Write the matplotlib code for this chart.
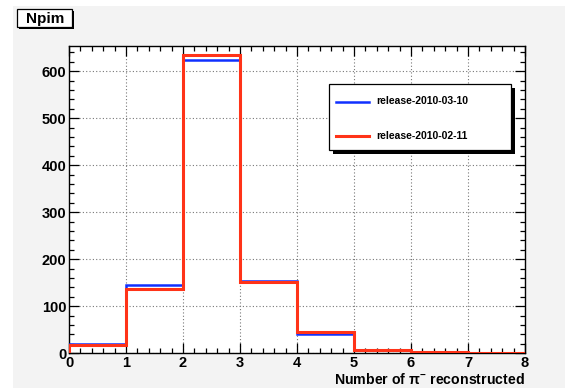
import matplotlib
matplotlib.use("Agg")
import matplotlib.pyplot as plt
from matplotlib.patches import Rectangle
from matplotlib.ticker import MultipleLocator
import numpy as np

# Number of reconstructed pi- per event, two releases
bin_edges = [0, 1, 2, 3, 4, 5, 6, 7, 8]
counts_2010_03_10 = [19, 145, 623, 154, 42, 8, 3, 1]
counts_2010_02_11 = [17, 136, 634, 151, 45, 8, 3, 0]
series_labels = ["release-2010-03-10", "release-2010-02-11"]
hist_title = "Npim"
x_title = r"Number of $\mathregular{\pi^{-}}$ reconstructed"

W, H = 565, 388
fig = plt.figure(figsize=(W / 100, H / 100), dpi=100)
fig.patch.set_facecolor("white")

# grey canvas
fig.patches.append(Rectangle((13 / W, 0), 1 - 13 / W, 1 - 6 / H,
                             transform=fig.transFigure, facecolor="#f3f3f3",
                             edgecolor="none", zorder=-10))

left, right, top, bottom = 69, 525, 45.7, 353.3
ax = fig.add_axes([left / W, 1 - bottom / H, (right - left) / W, (bottom - top) / H])
ax.set_zorder(1)
ax.set_facecolor("white")

ax.stairs(counts_2010_03_10, bin_edges, color="#1030ff", linewidth=1.8, zorder=3)
ax.stairs(counts_2010_02_11, bin_edges, color="#ff3318", linewidth=2.2, zorder=4)

ax.set_xlim(0, 8)
ax.set_ylim(0, max(counts_2010_03_10) * 1.05)

ax.xaxis.set_major_locator(MultipleLocator(1))
ax.xaxis.set_minor_locator(MultipleLocator(0.2))
ax.yaxis.set_major_locator(MultipleLocator(100))
ax.yaxis.set_minor_locator(MultipleLocator(20))

ax.grid(True, which="major", linestyle=(0, (1, 2)), color="#777777", linewidth=0.8, zorder=1)
ax.set_axisbelow(True)

ax.tick_params(which="both", direction="in", top=True, right=True, width=0.9, color="black")
ax.tick_params(which="major", length=7.5)
ax.tick_params(which="minor", length=3.8)
ax.tick_params(axis="both", which="major", labelsize=10.5, pad=2)
for lab in ax.get_xticklabels() + ax.get_yticklabels():
    lab.set_fontfamily("Liberation Sans")
    lab.set_fontweight("bold")

for s in ax.spines.values():
    s.set_linewidth(1.0)
    s.set_color("black")

fig.text(right / W, 1 - 380 / H, x_title, ha="right", va="center",
         fontsize=10.2, fontweight="bold", family="Liberation Sans")

# box with a drop shadow
def boxed(x0, y0, x1, y1, shadow):
    fig.patches.append(Rectangle(((x0 + shadow) / W, 1 - (y1 + shadow) / H), (x1 - x0) / W, (y1 - y0) / H,
                                 transform=fig.transFigure, facecolor="black", edgecolor="none", zorder=5))
    fig.patches.append(Rectangle((x0 / W, 1 - y1 / H), (x1 - x0) / W, (y1 - y0) / H,
                                 transform=fig.transFigure, facecolor="white", edgecolor="black",
                                 linewidth=0.9, zorder=6))

boxed(17, 9, 72, 27, 2)
fig.text(45 / W, 1 - 18.5 / H, hist_title, ha="center", va="center", fontsize=11,
         fontweight="bold", family="Liberation Sans", zorder=7)

# legend
boxed(329, 84, 511, 150, 4)
leg_rows = [(101.5, "#1030ff", 1.8), (136, "#ff3318", 2.2)]
for (yy, col, lw), lab in zip(leg_rows, series_labels):
    fig.add_artist(plt.Line2D([336 / W, 369 / W], [1 - yy / H, 1 - yy / H], color=col,
                              linewidth=lw, transform=fig.transFigure, zorder=8))
    fig.text(376 / W, 1 - yy / H, lab, ha="left", va="center", fontsize=7.5,
             fontweight="bold", family="Liberation Sans", zorder=8)

fig.savefig("out.png", dpi=100, facecolor=fig.get_facecolor())
